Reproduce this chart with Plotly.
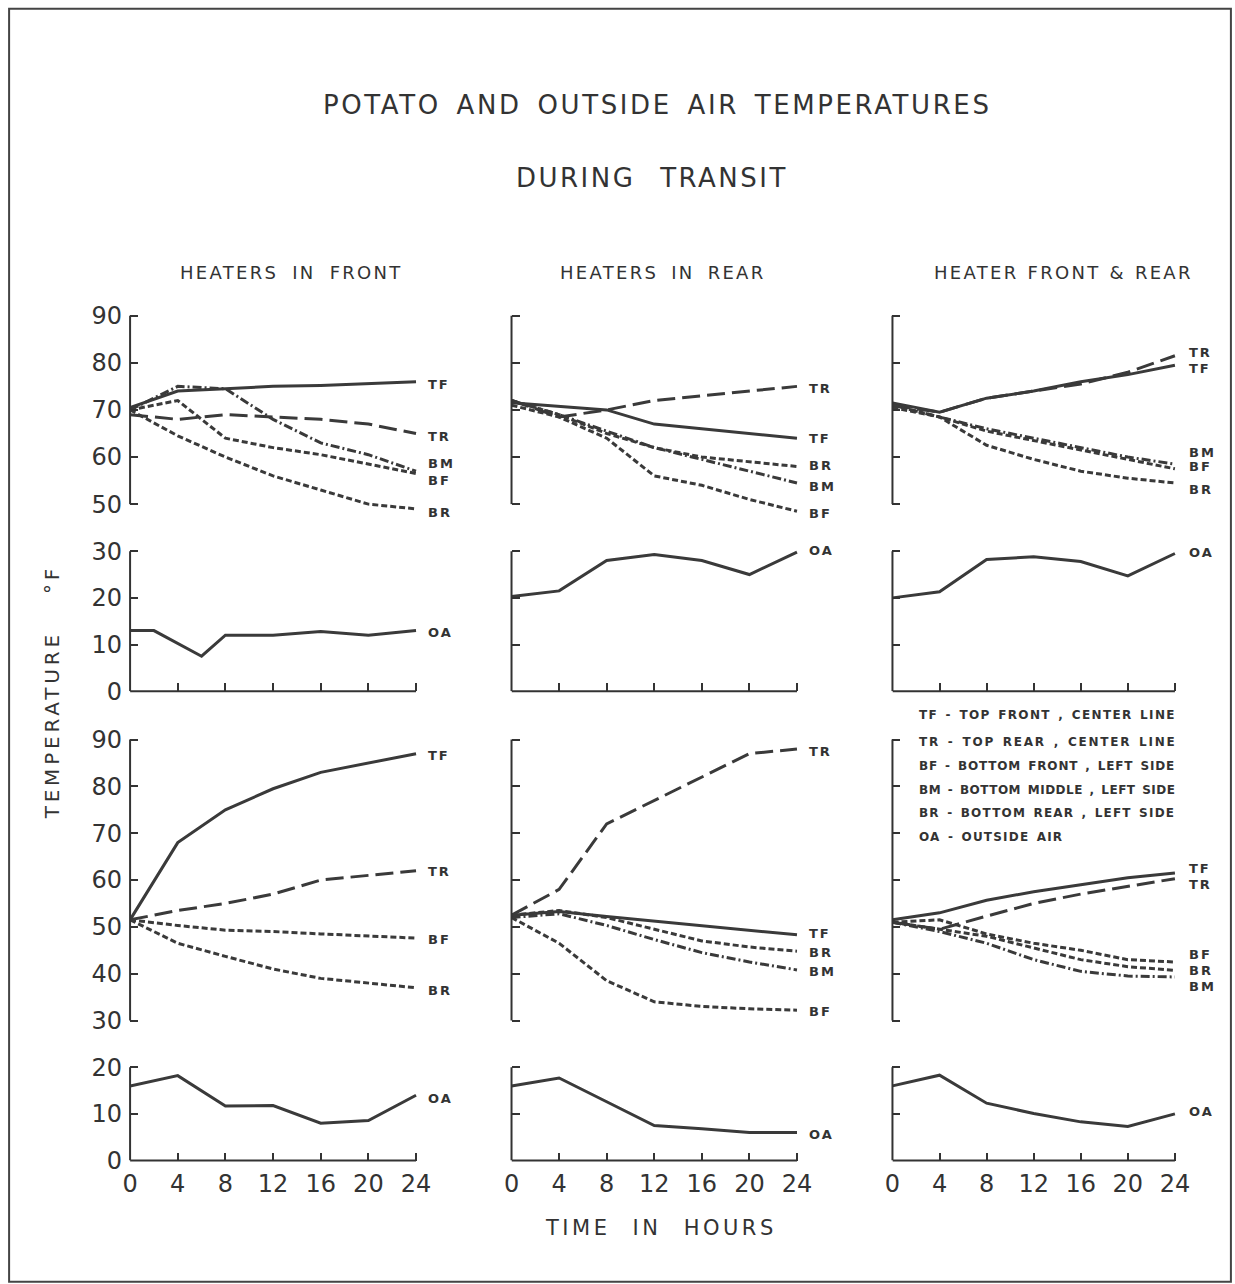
import plotly.graph_objects as go

# ---------------- data (deg F) ----------------
hours = [0, 4, 8, 12, 16, 20, 24]
hours_front1_oa = [0, 2, 6, 8, 12, 16, 20, 24]

# upper pair of rows
front1_TF = [70.5, 74, 74.5, 75, 75.2, 75.6, 76]
front1_TR = [69, 68, 69, 68.5, 68, 67, 65]
front1_BF = [70, 72, 64, 62, 60.5, 58.5, 56.5]
front1_BM = [70, 75, 74.5, 68, 63, 60.5, 57]
front1_BR = [70, 64.5, 60, 56, 53, 50, 49]

rear1_TF = [71.5, 70.8, 70, 67, 66, 65, 64]
rear1_TR = [72, 68.5, 70, 72, 73, 74, 75]
rear1_BF = [71, 68.5, 64, 56, 54, 51, 48.5]
rear1_BM = [72, 69, 65.5, 62, 59.5, 57, 54.5]
rear1_BR = [72, 69, 65, 62, 60, 59, 58]

both1_TF = [71.5, 69.5, 72.5, 74, 76, 77.5, 79.5]
both1_TR = [71, 69.5, 72.5, 74, 75.5, 78, 81.5]
both1_BF = [71, 68.5, 65.5, 63.5, 61.5, 59.5, 57.5]
both1_BM = [71, 68.5, 66, 64, 62, 60, 58.5]
both1_BR = [70.5, 68.5, 62.5, 59.5, 57, 55.5, 54.5]

front1_OA = [13, 13, 7.5, 12, 12, 12.8, 12, 13]
rear1_OA = [20.3, 21.5, 28, 29.3, 28, 25, 29.8]
both1_OA = [20, 21.3, 28.2, 28.8, 27.8, 24.7, 29.5]

# lower pair of rows
front2_TF = [51.5, 68, 75, 79.5, 83, 85, 87]
front2_TR = [51.5, 53.5, 55, 57, 60, 61, 62]
front2_BF = [51.5, 50.3, 49.3, 49, 48.5, 48.1, 47.6]
front2_BR = [51.5, 46.5, 43.7, 41, 39, 38, 37]

rear2_TF = [52.5, 53.3, 52.2, 51.2, 50.2, 49.2, 48.3]
rear2_TR = [52.5, 58, 72, 77, 82, 87, 88]
rear2_BF = [52, 46.5, 38.5, 34, 33, 32.5, 32.2]
rear2_BM = [52, 52.8, 50.3, 47.3, 44.5, 42.5, 40.8]
rear2_BR = [52.5, 53.5, 52, 49.5, 47, 45.7, 44.8]

both2_TF = [51.5, 53, 55.7, 57.5, 59, 60.5, 61.5]
both2_TR = [51, 49.5, 52.3, 55, 57, 58.7, 60.3]
both2_BF = [51, 51.5, 48.5, 46.5, 45, 43, 42.5]
both2_BM = [51, 49, 46.5, 43, 40.5, 39.5, 39.3]
both2_BR = [51, 49.5, 48, 45.5, 43, 41.5, 40.7]

front2_OA = [16, 18.2, 11.7, 11.8, 8, 8.6, 14]
rear2_OA = [16, 17.7, 12.6, 7.5, 6.8, 6, 6]
both2_OA = [16, 18.3, 12.3, 10.1, 8.3, 7.3, 10]

column_titles = ["HEATERS IN FRONT", "HEATERS IN REAR", "HEATER FRONT &amp; REAR"]
legend_lines = [
    "TF - TOP FRONT , CENTER LINE",
    "TR - TOP REAR , CENTER LINE",
    "BF - BOTTOM FRONT , LEFT SIDE",
    "BM - BOTTOM MIDDLE , LEFT SIDE",
    "BR - BOTTOM REAR , LEFT SIDE",
    "OA - OUTSIDE AIR",
]
row_ticks = [[50, 60, 70, 80, 90], [0, 10, 20, 30], [30, 40, 50, 60, 70, 80, 90], [0, 10, 20]]

# ---------------- layout geometry ----------------
W, H = 1235, 1284
# compensation for the page offset / capture scale observed in the renders
OX, OY = 7.9, 9.2
SX, SY = 0.9872, 0.9814
INK = "#333333"
LINE = "#3a3a3a"
FONT = "DejaVu Sans"
COLS_PX = [(130, 416), (511.5, 797), (892.5, 1175)]
# (visible top, visible bottom, px of top, px of bottom, range lo, range hi)
ROWS = [
    (90, 50, 315.7, 504, 47.5, 91),
    (30, 0, 551, 691, 0, 31),
    (90, 30, 739.3, 1020, 29, 91),
    (20, 0, 1066.7, 1160, 0, 21),
]
X_HI = 24.6
DASH = {"TF": "solid", "OA": "solid", "TR": "18px,7px",
        "BF": "6px,3px", "BR": "6px,3px", "BM": "9px,3px,2px,3px"}


def px(x):
    return ((x - OX) / SX) / W


def py(y):
    return 1 - ((y - OY) / SY) / H


panels = {
    (0, 0): [("TF", hours, front1_TF), ("TR", hours, front1_TR), ("BF", hours, front1_BF),
             ("BM", hours, front1_BM), ("BR", hours, front1_BR)],
    (0, 1): [("TF", hours, rear1_TF), ("TR", hours, rear1_TR), ("BF", hours, rear1_BF),
             ("BM", hours, rear1_BM), ("BR", hours, rear1_BR)],
    (0, 2): [("TF", hours, both1_TF), ("TR", hours, both1_TR), ("BF", hours, both1_BF),
             ("BM", hours, both1_BM), ("BR", hours, both1_BR)],
    (1, 0): [("OA", hours_front1_oa, front1_OA)],
    (1, 1): [("OA", hours, rear1_OA)],
    (1, 2): [("OA", hours, both1_OA)],
    (2, 0): [("TF", hours, front2_TF), ("TR", hours, front2_TR), ("BF", hours, front2_BF),
             ("BR", hours, front2_BR)],
    (2, 1): [("TF", hours, rear2_TF), ("TR", hours, rear2_TR), ("BF", hours, rear2_BF),
             ("BM", hours, rear2_BM), ("BR", hours, rear2_BR)],
    (2, 2): [("TF", hours, both2_TF), ("TR", hours, both2_TR), ("BF", hours, both2_BF),
             ("BM", hours, both2_BM), ("BR", hours, both2_BR)],
    (3, 0): [("OA", hours, front2_OA)],
    (3, 1): [("OA", hours, rear2_OA)],
    (3, 2): [("OA", hours, both2_OA)],
}
# where the end labels sit (data y)
LABEL_Y = {
    (0, 0): {"TF": 75.5, "TR": 64.4, "BM": 58.7, "BF": 55.1, "BR": 48.3},
    (0, 1): {"TR": 74.6, "TF": 64.0, "BR": 58.1, "BM": 53.8, "BF": 48.1},
    (0, 2): {"TR": 82.1, "TF": 78.7, "BM": 61.0, "BF": 57.9, "BR": 53.2},
    (1, 0): {"OA": 12.6}, (1, 1): {"OA": 30.2}, (1, 2): {"OA": 29.8},
    (2, 0): {"TF": 86.6, "TR": 61.9, "BF": 47.3, "BR": 36.4},
    (2, 1): {"TR": 87.5, "TF": 48.6, "BR": 44.5, "BM": 40.5, "BF": 31.9},
    (2, 2): {"TF": 62.5, "TR": 59.1, "BF": 44.1, "BR": 40.7, "BM": 37.3},
    (3, 0): {"OA": 13.3}, (3, 1): {"OA": 5.6}, (3, 2): {"OA": 10.5},
}


def spaced(text, ls, ws=0):
    return f'<span style="letter-spacing:{ls}px;word-spacing:{ws}px">{text}</span>'


fig = go.Figure()
layout = dict(
    width=W, height=H, margin=dict(l=0, r=0, t=0, b=0),
    paper_bgcolor="white", plot_bgcolor="rgba(0,0,0,0)",
    showlegend=False, font=dict(family=FONT, color=INK),
)
shapes = []
annotations = []

for (r, c), series in panels.items():
    n = r * 3 + c + 1
    xs = "" if n == 1 else str(n)
    vt, vb, pt, pb, rlo, rhi = ROWS[r]
    c0, c24 = COLS_PX[c]
    ppx = (c24 - c0) / 24.0
    ppd = (pb - pt) / (vt - vb)
    x_dom = [px(c0), px(c0 + X_HI * ppx)]
    py_hi = pt - (rhi - vt) * ppd
    py_lo = pb + (vb - rlo) * ppd
    y_dom = [py(py_lo), py(py_hi)]
    is_oa = r in (1, 3)

    layout["xaxis" + xs] = dict(
        domain=x_dom, range=[0, X_HI], anchor="y" + xs, visible=is_oa,
        showgrid=False, zeroline=False, showline=False,
        ticks="inside", ticklen=8, tickwidth=2, tickcolor=INK,
        tickvals=hours, showticklabels=(r == 3), ticklabelstandoff=6,
        tickfont=dict(size=24, color=INK, family=FONT),
    )
    layout["yaxis" + xs] = dict(
        domain=y_dom, range=[rlo, rhi], anchor="x" + xs,
        showgrid=False, zeroline=False, showline=False,
        ticks="inside", ticklen=8, tickwidth=2, tickcolor=INK,
        tickvals=row_ticks[r], showticklabels=(c == 0), ticklabelstandoff=7,
        tickfont=dict(size=24, color=INK, family=FONT),
    )
    # vertical axis line, from visible bottom to visible top
    shapes.append(dict(type="line", xref="paper", yref="y" + xs,
                       x0=px(c0), x1=px(c0), y0=vb, y1=vt,
                       line=dict(color=INK, width=2)))
    if is_oa:
        shapes.append(dict(type="line", xref="x" + xs, yref="paper",
                           x0=0, x1=24, y0=y_dom[0], y1=y_dom[0],
                           line=dict(color=INK, width=2)))

    for name, tx, vals in series:
        fig.add_trace(go.Scatter(
            x=tx, y=vals, mode="lines", xaxis="x" + xs, yaxis="y" + xs,
            line=dict(color=LINE, width=3, dash=DASH[name]),
            hoverinfo="skip",
        ))
    for name, yv in LABEL_Y[(r, c)].items():
        annotations.append(dict(
            x=24, y=yv, xref="x" + xs, yref="y" + xs, text=spaced(name, 2),
            showarrow=False, xanchor="left", yanchor="middle",
            xshift=10 if c < 2 else 12,
            font=dict(size=13, color=INK, family=FONT, weight="bold"),
        ))

# titles
annotations.append(dict(x=px(658), y=py(105), xref="paper", yref="paper",
                        text=spaced("POTATO AND OUTSIDE AIR TEMPERATURES", 2.6, 5),
                        showarrow=False, xanchor="center", yanchor="middle",
                        font=dict(size=26, color=INK, family=FONT)))
annotations.append(dict(x=px(652), y=py(178), xref="paper", yref="paper",
                        text=spaced("DURING TRANSIT", 2.5, 14),
                        showarrow=False, xanchor="center", yanchor="middle",
                        font=dict(size=26, color=INK, family=FONT)))
for cx, t, ws in zip([291, 663.5, 1064], column_titles, [6, 5, 1]):
    annotations.append(dict(x=px(cx), y=py(273), xref="paper", yref="paper",
                            text=spaced(t, 2.3, ws), showarrow=False,
                            xanchor="center", yanchor="middle",
                            font=dict(size=18, color=INK, family=FONT)))
annotations.append(dict(x=px(52), y=py(692), xref="paper", yref="paper",
                        text=spaced("TEMPERATURE °F", 3.8, 27), textangle=-90,
                        showarrow=False, xanchor="center", yanchor="middle",
                        font=dict(size=20, color=INK, family=FONT)))
annotations.append(dict(x=px(661), y=py(1227), xref="paper", yref="paper",
                        text=spaced("TIME IN HOURS", 3.5, 12),
                        showarrow=False, xanchor="center", yanchor="middle",
                        font=dict(size=21, color=INK, family=FONT)))
legend_ls = [1.35, 1.75, 0.85, 0.5, 1.2, 1.2]
for yy, t, ls in zip([715, 741.7, 765.7, 789.3, 812.7, 836.7], legend_lines, legend_ls):
    annotations.append(dict(x=px(917), y=py(yy), xref="paper", yref="paper",
                            text=spaced(t, ls, 2), showarrow=False,
                            xanchor="left", yanchor="middle",
                            font=dict(size=12, color=INK, family=FONT, weight="bold")))

# outer frame
shapes.append(dict(type="rect", xref="paper", yref="paper",
                   x0=px(9), x1=px(1231), y0=py(1281), y1=py(9),
                   line=dict(color="#444444", width=2)))

layout["shapes"] = shapes
layout["annotations"] = annotations
fig.update_layout(**layout)
fig.write_html("out.html")
